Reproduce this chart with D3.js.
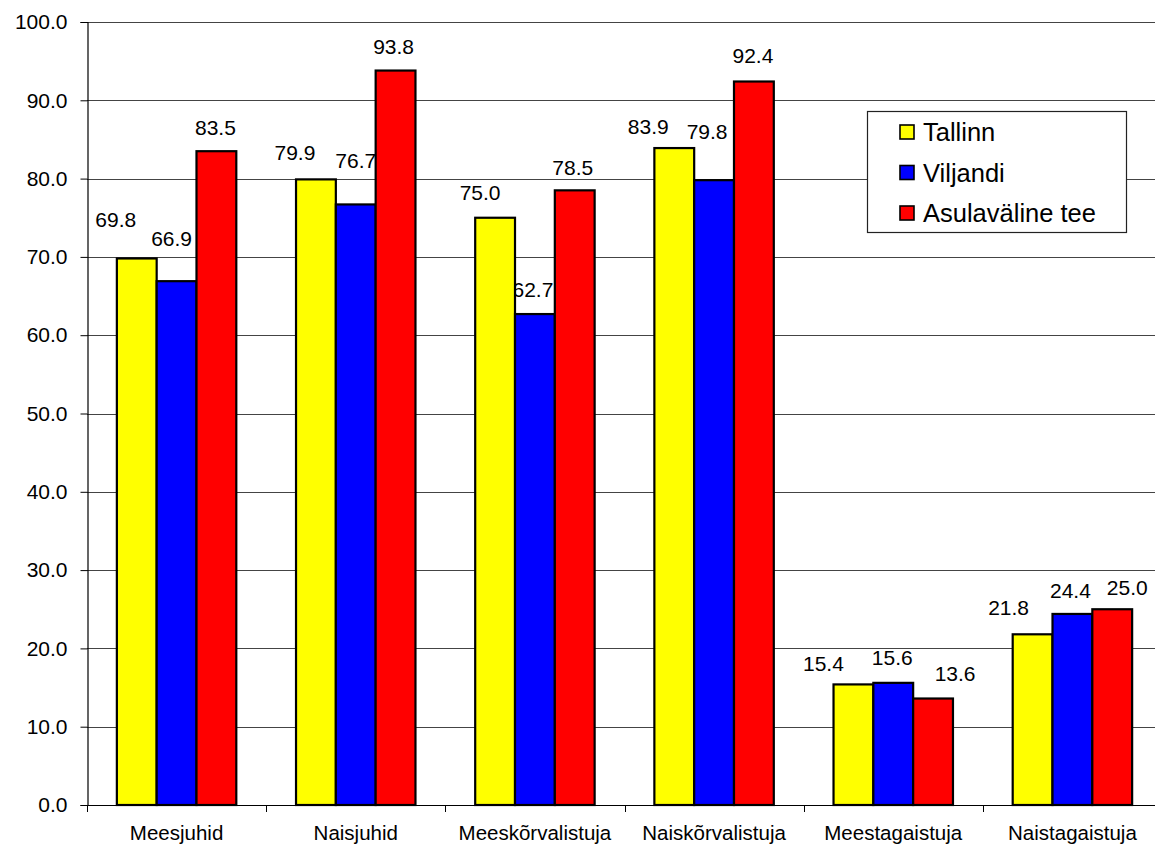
<!DOCTYPE html>
<html>
<head>
<meta charset="utf-8">
<script src="https://cdn.jsdelivr.net/npm/d3@7"></script>
<style>
  html, body { margin: 0; padding: 0; background: #fff; }
  svg { display: block; font-family: "Liberation Sans", Arial, sans-serif; }
</style>
</head>
<body>
<svg id="chart" width="1155" height="847"></svg>
<script>
// Categories and series
const categories = ["Meesjuhid", "Naisjuhid", "Meeskõrvalistuja", "Naiskõrvalistuja", "Meestagaistuja", "Naistagaistuja"];
const seriesNames = ["Tallinn", "Viljandi", "Asulaväline tee"];
const tallinn   = [69.8, 79.9, 75.0, 83.9, 15.4, 21.8];
const viljandi  = [66.9, 76.7, 62.7, 79.8, 15.6, 24.4];
const asulavaline = [83.5, 93.8, 78.5, 92.4, 13.6, 25.0];
const yTicks = [0, 10, 20, 30, 40, 50, 60, 70, 80, 90, 100];

// Hand-placed value label nudges [dx, dy] relative to the default spot above each bar
const labelNudge = [
  [[-21, -14], [-21, -2], [-15, 0], [-26, 3], [-30, 4], [-24, -2]],
  [[-5, -18], [0, -19], [-2, 0], [-7, -24], [-1, 0], [-2, 1]],
  [[-1, 1], [-2, 1], [-2, 2], [-1, -1], [22, 0], [15, 3]]
];

const seriesValues = [tallinn, viljandi, asulavaline];
const colors = ["#ffff00", "#0000ff", "#ff0000"];

const svg = d3.select("#chart");
const margin = { left: 87, top: 22, right: 1162, bottom: 805 };

const x0 = d3.scaleBand().domain(categories).range([margin.left, margin.right]).paddingInner(0).paddingOuter(0);
const x1 = d3.scaleBand().domain(seriesNames).range([0, x0.bandwidth()]).paddingInner(0).paddingOuter(0.75);
const y = d3.scaleLinear().domain([0, 100]).range([margin.bottom, margin.top]);

// Gridlines
svg.append("g")
  .selectAll("line")
  .data(yTicks.filter(d => d > 0))
  .join("line")
  .attr("x1", margin.left).attr("x2", margin.right)
  .attr("y1", d => Math.round(y(d)) + 0.5).attr("y2", d => Math.round(y(d)) + 0.5)
  .attr("stroke", "#444").attr("stroke-width", 1);

// Y axis
const yAxis = svg.append("g")
  .attr("transform", `translate(${margin.left + 0.5},0)`)
  .call(d3.axisLeft(y).tickValues(yTicks).tickFormat(d => d.toFixed(1)).tickSize(7).tickPadding(13));
yAxis.select(".domain").attr("stroke", "#000").attr("stroke-width", 1.2);
yAxis.selectAll(".tick line").attr("stroke", "#000");
yAxis.selectAll(".tick text").attr("font-size", 21).attr("fill", "#000")
  .attr("font-family", "'Liberation Sans', Arial, sans-serif");

// X axis with ticks at category boundaries
const xAxisG = svg.append("g");
xAxisG.append("line")
  .attr("x1", margin.left).attr("x2", margin.right)
  .attr("y1", margin.bottom + 0.5).attr("y2", margin.bottom + 0.5)
  .attr("stroke", "#000").attr("stroke-width", 1.2);
xAxisG.selectAll("line.bound")
  .data(categories.map(c => x0(c)).concat([margin.right]))
  .join("line").attr("class", "bound")
  .attr("x1", d => Math.round(d) + 0.5).attr("x2", d => Math.round(d) + 0.5)
  .attr("y1", margin.bottom).attr("y2", margin.bottom + 7)
  .attr("stroke", "#000");
xAxisG.selectAll("text")
  .data(categories)
  .join("text")
  .attr("x", d => x0(d) + x0.bandwidth() / 2)
  .attr("y", 840)
  .attr("text-anchor", "middle")
  .attr("font-size", 20.5)
  .text(d => d);

// Flatten bars
const bars = [];
seriesNames.forEach((s, si) => {
  categories.forEach((c, ci) => {
    bars.push({ s, si, c, ci, v: seriesValues[si][ci] });
  });
});

// Value labels (drawn first so bars sit over them)
svg.append("g")
  .selectAll("text")
  .data(bars)
  .join("text")
  .attr("x", d => x0(d.c) + x1(d.s) + x1.bandwidth() / 2 + labelNudge[d.si][d.ci][0])
  .attr("y", d => y(d.v) - 25 + labelNudge[d.si][d.ci][1])
  .attr("dy", "0.36em")
  .attr("text-anchor", "middle")
  .attr("font-size", 21)
  .text(d => d.v.toFixed(1));

// Bars
svg.append("g")
  .selectAll("rect")
  .data(bars)
  .join("rect")
  .attr("x", d => x0(d.c) + x1(d.s))
  .attr("y", d => y(d.v))
  .attr("width", x1.bandwidth())
  .attr("height", d => y(0) - y(d.v))
  .attr("fill", d => colors[d.si])
  .attr("stroke", "#000")
  .attr("stroke-width", 2.2);

// Legend
const legend = svg.append("g");
legend.append("rect")
  .attr("x", 867.5).attr("y", 111.5).attr("width", 259).attr("height", 121)
  .attr("fill", "#fff").attr("stroke", "#222").attr("stroke-width", 1.2);
const items = legend.selectAll("g.item")
  .data(seriesNames)
  .join("g").attr("class", "item")
  .attr("transform", (d, i) => `translate(900, ${132 + i * 40.5})`);
items.append("rect")
  .attr("x", 0).attr("y", -7).attr("width", 14).attr("height", 14)
  .attr("fill", (d, i) => colors[i]).attr("stroke", "#000").attr("stroke-width", 1.6);
items.append("text")
  .attr("x", 23).attr("y", 0).attr("dy", "0.36em")
  .attr("font-size", 25.5)
  .text(d => d);
</script>
</body>
</html>
